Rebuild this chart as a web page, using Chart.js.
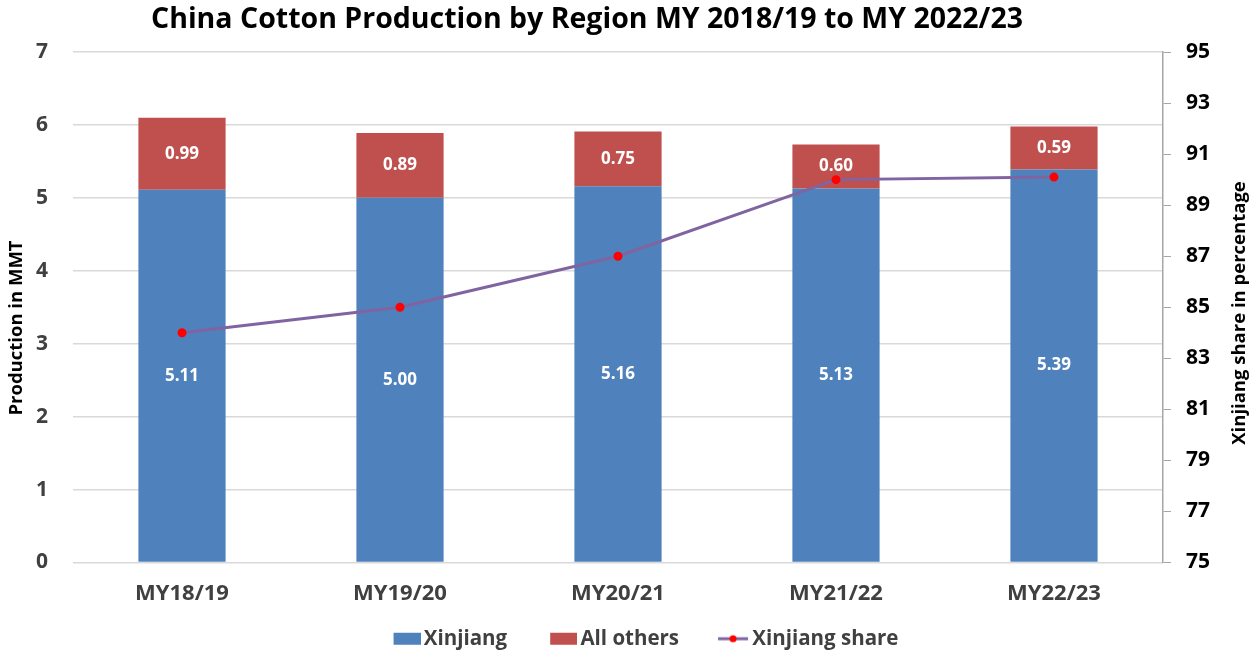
<!DOCTYPE html>
<html>
<head>
<meta charset="utf-8">
<script src="https://cdn.jsdelivr.net/npm/chart.js@4.4.1/dist/chart.umd.min.js"></script>
<style>
  html, body { margin: 0; padding: 0; background: #fff; }
  #wrap { width: 1252px; height: 653px; }
</style>
</head>
<body>
<div id="wrap"><canvas id="chart"></canvas></div>
<script>
// values
const years = ['MY18/19', 'MY19/20', 'MY20/21', 'MY21/22', 'MY22/23'];
const xinjiang = [5.11, 5.00, 5.16, 5.13, 5.39];
const allOthers = [0.99, 0.89, 0.75, 0.60, 0.59];
const xinjiangShare = [84, 85, 87, 90, 90.1];
const leftTicks = [0, 1, 2, 3, 4, 5, 6, 7];
const rightTicks = [75, 77, 79, 81, 83, 85, 87, 89, 91, 93, 95];

const titleText = 'China Cotton Production by Region MY 2018/19 to MY 2022/23';
const leftTitle = 'Production in MMT';
const rightTitle = 'Xinjiang share in percentage';

const FONT = "'Open Sans', sans-serif";
const BLUE = '#4f81bd';
const RED = '#c0504d';
const PURPLE = '#8064a2';
const MARK_W = 60; // room kept for each legend marker

// legend markers: transparent on the left, marker at the right end
function boxMarker(color) {
    const c = document.createElement('canvas');
    c.width = MARK_W + 14; c.height = 14;
    const g = c.getContext('2d');
    g.fillStyle = color;
    g.fillRect(c.width - 27, 1, 27, 12);
    return c;
}
function lineMarker() {
    const c = document.createElement('canvas');
    c.width = MARK_W + 14; c.height = 14;
    const g = c.getContext('2d');
    g.strokeStyle = PURPLE;
    g.lineWidth = 3;
    g.beginPath(); g.moveTo(c.width - 31, 7); g.lineTo(c.width - 1, 7); g.stroke();
    g.fillStyle = '#ff0000';
    g.beginPath(); g.arc(c.width - 16, 7, 3.5, 0, Math.PI * 2); g.fill();
    return c;
}

// chart title and both axis titles, placed like the original
const titles = {
    id: 'titles',
    afterDraw(chart) {
        const ctx = chart.ctx;
        ctx.save();
        ctx.fillStyle = '#000';
        ctx.textAlign = 'center';
        ctx.textBaseline = 'middle';
        ctx.font = 'bold 28.5px ' + FONT;
        ctx.fillText(titleText, 587, 20);

        ctx.font = 'bold 18.5px ' + FONT;
        ctx.translate(17, 328);
        ctx.rotate(-Math.PI / 2);
        ctx.fillText(leftTitle, 0, 0);
        ctx.restore();

        ctx.save();
        ctx.fillStyle = '#000';
        ctx.textAlign = 'center';
        ctx.textBaseline = 'middle';
        ctx.font = 'bold 18.5px ' + FONT;
        ctx.translate(1240, 313);
        ctx.rotate(-Math.PI / 2);
        ctx.fillText(rightTitle, 0, 0);
        ctx.restore();
    }
};

// white value labels in the middle of each bar segment
const barLabels = {
    id: 'barLabels',
    afterDatasetsDraw(chart) {
        const ctx = chart.ctx;
        ctx.save();
        ctx.fillStyle = '#fff';
        ctx.font = 'bold 17px ' + FONT;
        ctx.textAlign = 'center';
        ctx.textBaseline = 'middle';
        [0, 1].forEach(i => {
            const meta = chart.getDatasetMeta(i);
            meta.data.forEach((bar, j) => {
                const y = (bar.y + bar.base) / 2;
                ctx.fillText(chart.data.datasets[i].data[j].toFixed(2), bar.x, y);
            });
        });
        ctx.restore();
    }
};

new Chart(document.getElementById('chart'), {
    data: {
        labels: years,
        datasets: [
            {
                type: 'bar',
                label: 'Xinjiang',
                data: xinjiang,
                backgroundColor: BLUE,
                yAxisID: 'y',
                stack: 'prod',
                barPercentage: 0.8,
                categoryPercentage: 0.5,
                order: 2
            },
            {
                type: 'bar',
                label: 'All others',
                data: allOthers,
                backgroundColor: RED,
                yAxisID: 'y',
                stack: 'prod',
                barPercentage: 0.8,
                categoryPercentage: 0.5,
                order: 2
            },
            {
                type: 'line',
                label: 'Xinjiang share',
                data: xinjiangShare,
                borderColor: PURPLE,
                borderWidth: 3,
                pointBackgroundColor: '#ff0000',
                pointBorderColor: '#ff0000',
                pointRadius: 3,
                tension: 0,
                yAxisID: 'y1',
                order: 1
            }
        ]
    },
    options: {
        responsive: true,
        maintainAspectRatio: false,
        animation: false,
        layout: { padding: { left: 0, right: 0, top: 52, bottom: -6 } },
        plugins: {
            title: { display: false },
            legend: {
                position: 'bottom',
                labels: {
                    usePointStyle: true,
                    pointStyleWidth: MARK_W,
                    color: '#404040',
                    font: { family: FONT, size: 20.5, weight: 'bold' },
                    padding: 3,
                    generateLabels(chart) {
                        const markers = [boxMarker(BLUE), boxMarker(RED), lineMarker()];
                        return chart.data.datasets.map((ds, i) => ({
                            text: ds.label,
                            pointStyle: markers[i],
                            datasetIndex: i,
                            fontColor: '#404040',
                            lineWidth: 0
                        }));
                    }
                }
            },
            tooltip: { enabled: false }
        },
        scales: {
            x: {
                stacked: true,
                grid: { display: false },
                border: { display: false },
                ticks: {
                    color: '#404040',
                    font: { family: FONT, size: 22, weight: 'bold' },
                    padding: 10
                },
                afterFit(axis) { axis.height = 63; }
            },
            y: {
                stacked: true,
                position: 'left',
                min: 0,
                max: 7,
                afterBuildTicks(axis) { axis.ticks = leftTicks.map(v => ({ value: v })); },
                grid: { color: '#d9d9d9', lineWidth: 1.5, drawTicks: false },
                border: { display: false },
                ticks: {
                    color: '#404040',
                    font: { family: FONT, size: 21, weight: 'bold' },
                    padding: 25
                },
                afterFit(axis) { axis.width = 73; }
            },
            y1: {
                position: 'right',
                min: 75,
                max: 95,
                afterBuildTicks(axis) { axis.ticks = rightTicks.map(v => ({ value: v })); },
                grid: { drawOnChartArea: false, color: '#a6a6a6', tickLength: 8 },
                border: { display: true, color: '#a6a6a6', width: 1.5 },
                ticks: {
                    color: '#000',
                    font: { family: FONT, size: 21, weight: 'bold' },
                    padding: 15
                },
                afterFit(axis) { axis.width = 89; }
            }
        }
    },
    plugins: [barLabels, titles]
});
</script>
</body>
</html>
